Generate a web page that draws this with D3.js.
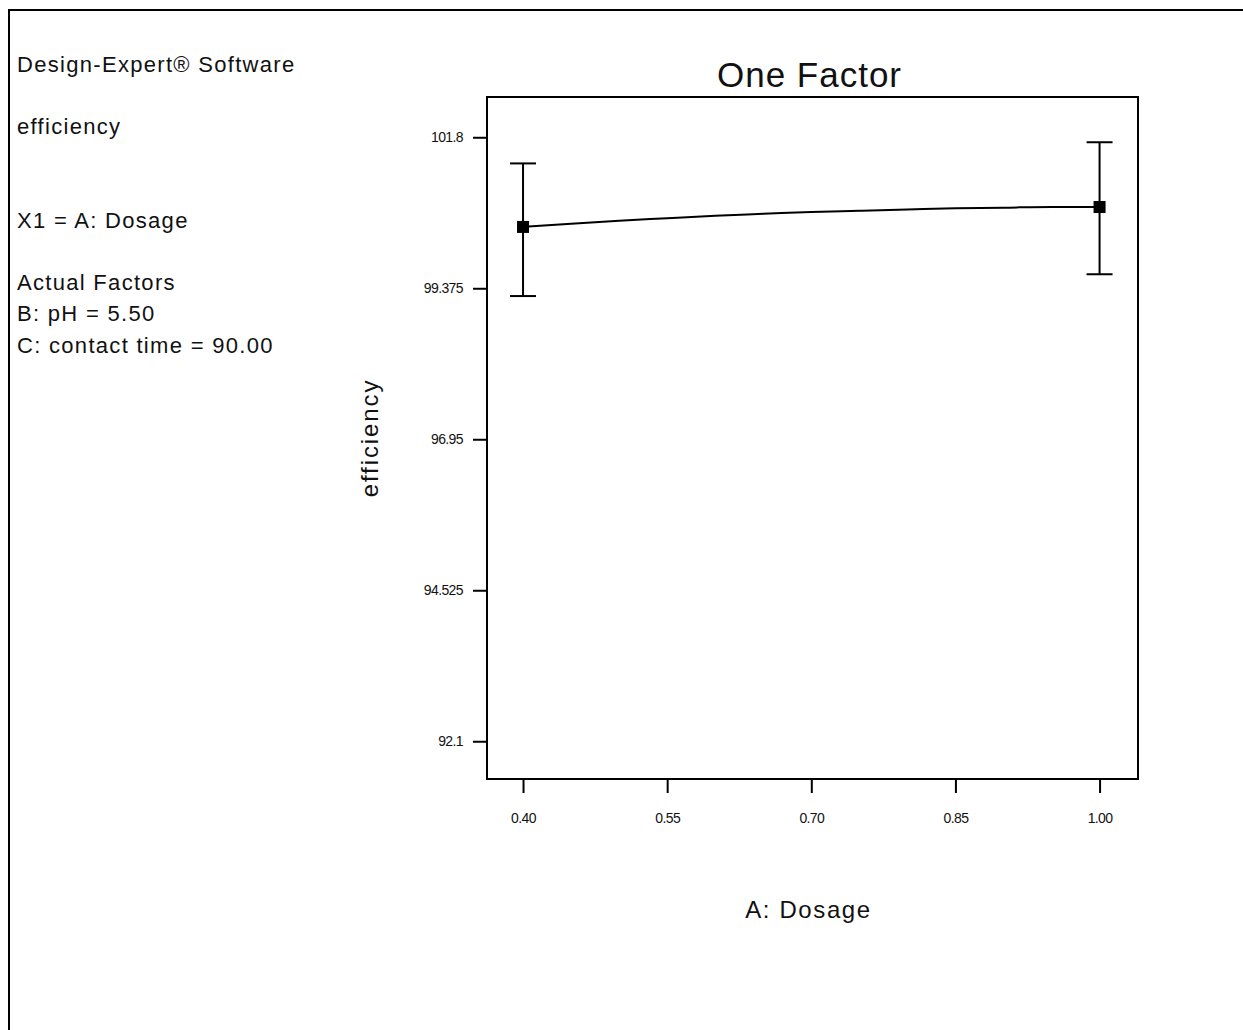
<!DOCTYPE html>
<html>
<head>
<meta charset="utf-8">
<script src="https://cdn.jsdelivr.net/npm/d3@7"></script>
<style>
  body { margin: 0; background: #fff; }
  svg { display: block; font-family: "Liberation Sans", Arial, sans-serif; }
</style>
</head>
<body>
<svg id="chart" width="1243" height="1030"></svg>
<script>
// model prediction line
const curveDosage = [0.40, 0.45, 0.50, 0.55, 0.60, 0.65, 0.70, 0.75, 0.80, 0.85, 0.90, 0.95, 1.00];
const curveEfficiency = [100.36, 100.41, 100.46, 100.50, 100.54, 100.57, 100.60, 100.62, 100.64, 100.66, 100.67, 100.68, 100.68];

// design points with their intervals
const pointDosage = [0.40, 1.00];
const pointEfficiency = [100.36, 100.68];
const pointLow = [99.25, 99.60];
const pointHigh = [101.38, 101.72];

const xTicks = [0.40, 0.55, 0.70, 0.85, 1.00];
const yTicks = [92.1, 94.525, 96.95, 99.375, 101.8];
const yTickLabels = ["92.1", "94.525", "96.95", "99.375", "101.8"];

const infoLines = [
  { text: "Design-Expert® Software", y: 72 },
  { text: "efficiency", y: 134 },
  { text: "X1 = A: Dosage", y: 228 },
  { text: "Actual Factors", y: 290 },
  { text: "B: pH = 5.50", y: 321 },
  { text: "C: contact time = 90.00", y: 353 }
];

const svg = d3.select("#chart");

// outer frame (only top and left edges show)
svg.append("path")
  .attr("d", "M9,1030 V10 H1243")
  .attr("fill", "none")
  .attr("stroke", "#000")
  .attr("stroke-width", 2);

// info text on the left
svg.selectAll("text.info")
  .data(infoLines)
  .enter()
  .append("text")
  .attr("class", "info")
  .attr("x", 17)
  .attr("y", d => d.y)
  .text(d => d.text)
  .style("font-size", "22px")
  .style("letter-spacing", "1.3px")
  .attr("fill", "#111");

const plot = { left: 487, right: 1138, top: 97, bottom: 779 };

// padding round the tick span
const xSpan = d3.max(xTicks) - d3.min(xTicks);
const ySpan = d3.max(yTicks) - d3.min(yTicks);
const x = d3.scaleLinear()
  .domain([d3.min(xTicks) - xSpan / 16, d3.max(xTicks) + xSpan / 15])
  .range([plot.left, plot.right]);
const y = d3.scaleLinear()
  .domain([d3.min(yTicks) - ySpan / 16, d3.max(yTicks) + ySpan / 15])
  .range([plot.bottom, plot.top]);

// x axis
const xAxis = svg.append("g")
  .attr("transform", `translate(0, ${plot.bottom})`)
  .call(d3.axisBottom(x).tickValues(xTicks).tickFormat(d3.format(".2f")).tickSize(14).tickSizeOuter(0).tickPadding(20));
xAxis.select(".domain").remove();
xAxis.selectAll(".tick line").attr("stroke-width", 2);
xAxis.selectAll(".tick text")
  .style("font-size", "14px")
  .style("letter-spacing", "-0.6px")
  .style("font-family", "'Liberation Sans', Arial, sans-serif")
  .attr("fill", "#111");

// y axis
const yAxis = svg.append("g")
  .attr("transform", `translate(${plot.left}, 0)`)
  .call(d3.axisLeft(y).tickValues(yTicks).tickFormat((d, i) => yTickLabels[i]).tickSize(14).tickSizeOuter(0).tickPadding(10));
yAxis.select(".domain").remove();
yAxis.selectAll(".tick line").attr("stroke-width", 2);
yAxis.selectAll(".tick text")
  .style("font-size", "14px")
  .style("letter-spacing", "-0.6px")
  .style("font-family", "'Liberation Sans', Arial, sans-serif")
  .attr("fill", "#111");

// plot box
svg.append("rect")
  .attr("x", plot.left)
  .attr("y", plot.top)
  .attr("width", plot.right - plot.left)
  .attr("height", plot.bottom - plot.top)
  .attr("fill", "none")
  .attr("stroke", "#000")
  .attr("stroke-width", 2);

// title and axis labels
svg.append("text")
  .attr("x", (plot.left + plot.right) / 2 - 3)
  .attr("y", 87)
  .attr("text-anchor", "middle")
  .text("One Factor")
  .style("font-size", "35px")
  .style("letter-spacing", "1px")
  .attr("fill", "#111");

svg.append("text")
  .attr("x", (plot.left + plot.right) / 2 - 4)
  .attr("y", 918)
  .attr("text-anchor", "middle")
  .text("A: Dosage")
  .style("font-size", "24px")
  .style("letter-spacing", "1.6px")
  .attr("fill", "#111");

svg.append("text")
  .attr("transform", `translate(378, ${(plot.top + plot.bottom) / 2}) rotate(-90)`)
  .attr("text-anchor", "middle")
  .text("efficiency")
  .style("font-size", "24px")
  .style("letter-spacing", "1.9px")
  .attr("fill", "#111");

// prediction line
const curveData = curveDosage.map((d, i) => ({ dosage: d, eff: curveEfficiency[i] }));
const line = d3.line()
  .x(d => x(d.dosage))
  .y(d => y(d.eff))
  .curve(d3.curveMonotoneX);

svg.append("path")
  .datum(curveData)
  .attr("fill", "none")
  .attr("stroke", "#000")
  .attr("stroke-width", 2)
  .attr("d", line);

// error bars and points
const points = pointDosage.map((d, i) => ({
  dosage: d, eff: pointEfficiency[i], low: pointLow[i], high: pointHigh[i]
}));
const capHalf = 13;

const bars = svg.selectAll("g.bar")
  .data(points)
  .enter()
  .append("g")
  .attr("class", "bar")
  .attr("stroke", "#000")
  .attr("stroke-width", 2);

bars.append("line")
  .attr("x1", d => x(d.dosage)).attr("x2", d => x(d.dosage))
  .attr("y1", d => y(d.low)).attr("y2", d => y(d.high));
bars.append("line")
  .attr("x1", d => x(d.dosage) - capHalf).attr("x2", d => x(d.dosage) + capHalf)
  .attr("y1", d => y(d.high)).attr("y2", d => y(d.high));
bars.append("line")
  .attr("x1", d => x(d.dosage) - capHalf).attr("x2", d => x(d.dosage) + capHalf)
  .attr("y1", d => y(d.low)).attr("y2", d => y(d.low));

svg.selectAll("rect.pt")
  .data(points)
  .enter()
  .append("rect")
  .attr("class", "pt")
  .attr("x", d => x(d.dosage) - 6)
  .attr("y", d => y(d.eff) - 6)
  .attr("width", 12)
  .attr("height", 12)
  .attr("fill", "#000");
</script>
</body>
</html>
